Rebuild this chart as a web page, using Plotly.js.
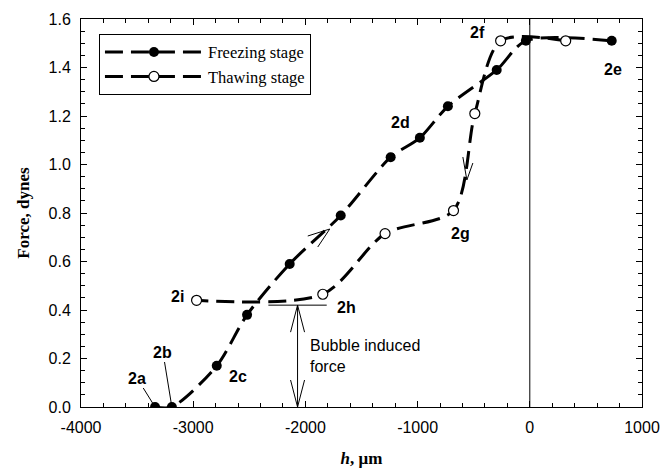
<!DOCTYPE html>
<html><head><meta charset="utf-8">
<script src="https://cdn.plot.ly/plotly-3.0.1.min.js"></script>
<style>body{margin:0;background:#fff}#chart{width:667px;height:470px}</style>
</head><body><div id="chart"></div>
<script>
// Freezing stage (filled markers)
const freezeH = [-3340, -3190, -2790, -2520, -2140, -1685, -1240, -980, -730, -295, -35, 730];
const freezeF = [0.0, 0.0, 0.17, 0.38, 0.59, 0.79, 1.03, 1.11, 1.24, 1.39, 1.51, 1.51];
// Thawing stage (open markers)
const thawH = [320, -260, -490, -680, -1290, -1845, -2970];
const thawF = [1.51, 1.51, 1.21, 0.81, 0.715, 0.465, 0.44];
// point labels
const labelText = ['2a','2b','2c','2d','2e','2f','2g','2h','2i'];
const labelH = [-3500, -3270, -2600, -1150, 740, -470, -620, -1630, -3140];
const labelF = [0.12, 0.23, 0.125, 1.175, 1.39, 1.545, 0.715, 0.41, 0.455];
// axis tick labels
const xTickVals = [-4000, -3000, -2000, -1000, 0, 1000];
const xTickText = ['-4000', '-3000', '-2000', '-1000', '0', '1000'];
// bubble induced force
const bubbleF = 0.42;
const bubbleH = -2070;
const bubbleLineH = [-2330, -1810];

const dash = '18px,8px';
const traces = [
  {x: freezeH, y: freezeF, name: 'Freezing stage', mode: 'lines+markers',
   line: {color: '#000', width: 3, dash: dash, shape: 'spline', smoothing: 0.8},
   marker: {color: '#000', size: 10, symbol: 'circle'}},
  {x: thawH, y: thawF, name: 'Thawing stage', mode: 'lines+markers',
   line: {color: '#000', width: 3, dash: dash, shape: 'spline', smoothing: 0.8},
   marker: {color: '#fff', size: 10, symbol: 'circle', line: {color: '#000', width: 1.2}}}
];

const lblFont = {family: 'Liberation Sans, Arial', size: 16, color: '#000'};
const ann = labelText.map((t, i) => ({x: labelH[i], y: labelF[i], text: '<b>' + t + '</b>', showarrow: false, font: lblFont}));
// leader lines for 2a, 2b
ann[0] = {x: freezeH[0], y: freezeF[0], ax: -18, ay: -29, text: '<b>2a</b>', showarrow: true, arrowhead: 0, arrowwidth: 1, arrowcolor: '#000', standoff: 4, font: lblFont};
ann[1] = {x: freezeH[1], y: freezeF[1], ax: -9, ay: -55, text: '<b>2b</b>', showarrow: true, arrowhead: 0, arrowwidth: 1, arrowcolor: '#000', standoff: 4, font: lblFont};
ann.push({x: bubbleH + 90, y: 0.21, xanchor: 'left', align: 'left', text: 'Bubble induced<br>force', showarrow: false, font: lblFont});

const shapes = [
  {type: 'line', xref: 'x', yref: 'paper', x0: 0, x1: 0, y0: 0, y1: 1, line: {color: '#000', width: 1}},
  {type: 'line', xref: 'x', yref: 'y', x0: bubbleLineH[0], x1: bubbleLineH[1], y0: bubbleF, y1: bubbleF, line: {color: '#000', width: 1}},
  {type: 'line', xref: 'x', yref: 'y', x0: bubbleH, x1: bubbleH, y0: 0, y1: bubbleF, line: {color: '#000', width: 1}},
  {type: 'path', xref: 'x', yref: 'y', xsizemode: 'pixel', ysizemode: 'pixel', xanchor: bubbleH, yanchor: bubbleF,
   path: 'M -7,-27 L 0,0 L 7,-27', line: {color: '#000', width: 1}},
  {type: 'path', xref: 'x', yref: 'y', xsizemode: 'pixel', ysizemode: 'pixel', xanchor: bubbleH, yanchor: 0,
   path: 'M -7,27 L 0,0 L 7,27', line: {color: '#000', width: 1}},
  {type: 'path', xref: 'x', yref: 'y', xsizemode: 'pixel', ysizemode: 'pixel', xanchor: -1783, yanchor: 0.734,
   path: 'M -22,-7 L 0,0 L -12,-18', line: {color: '#000', width: 1}},
  {type: 'path', xref: 'x', yref: 'y', xsizemode: 'pixel', ysizemode: 'pixel', xanchor: -561, yanchor: 0.936,
   path: 'M -4,23 L 0,0 L 6,17', line: {color: '#000', width: 1}}
];

const tickFont = {family: 'Liberation Sans, Arial', size: 16, color: '#000'};
const layout = {
  width: 667, height: 470,
  margin: {l: 81, r: 25, t: 19, b: 63},
  paper_bgcolor: '#fff', plot_bgcolor: '#fff',
  showlegend: true,
  legend: {x: 0.032, y: 0.962, xanchor: 'left', yanchor: 'top', bordercolor: '#000', borderwidth: 1,
    bgcolor: '#fff', itemwidth: 98, font: {family: 'Liberation Serif, Times New Roman', size: 16.5, color: '#000'}},
  xaxis: {range: [-4000, 1000], tickvals: xTickVals, ticktext: xTickText, ticks: 'inside', ticklen: 6, tickcolor: '#000',
    showline: true, linecolor: '#000', linewidth: 1, mirror: 'ticks', showgrid: false, zeroline: false,
    minor: {dtick: 200, ticks: 'inside', ticklen: 4, tickcolor: '#000'},
    tickfont: tickFont, ticklabelstandoff: 6,
    title: {text: '<b><i>h</i>, μm</b>', font: {family: 'Liberation Serif, Times New Roman', size: 17, color: '#000'}, standoff: 16}},
  yaxis: {range: [0, 1.6], dtick: 0.2, tickformat: '.1f', ticks: 'inside', ticklen: 6, tickcolor: '#000',
    showline: true, linecolor: '#000', linewidth: 1, mirror: 'ticks', showgrid: false, zeroline: false,
    minor: {dtick: 0.05, ticks: 'inside', ticklen: 4, tickcolor: '#000'},
    tickfont: tickFont, ticklabelstandoff: 6,
    title: {text: '<b>Force, dynes</b>', font: {family: 'Liberation Serif, Times New Roman', size: 17, color: '#000'}, standoff: 14}},
  annotations: ann,
  shapes: shapes
};
Plotly.newPlot('chart', traces, layout, {displayModeBar: false});
</script></body></html>
